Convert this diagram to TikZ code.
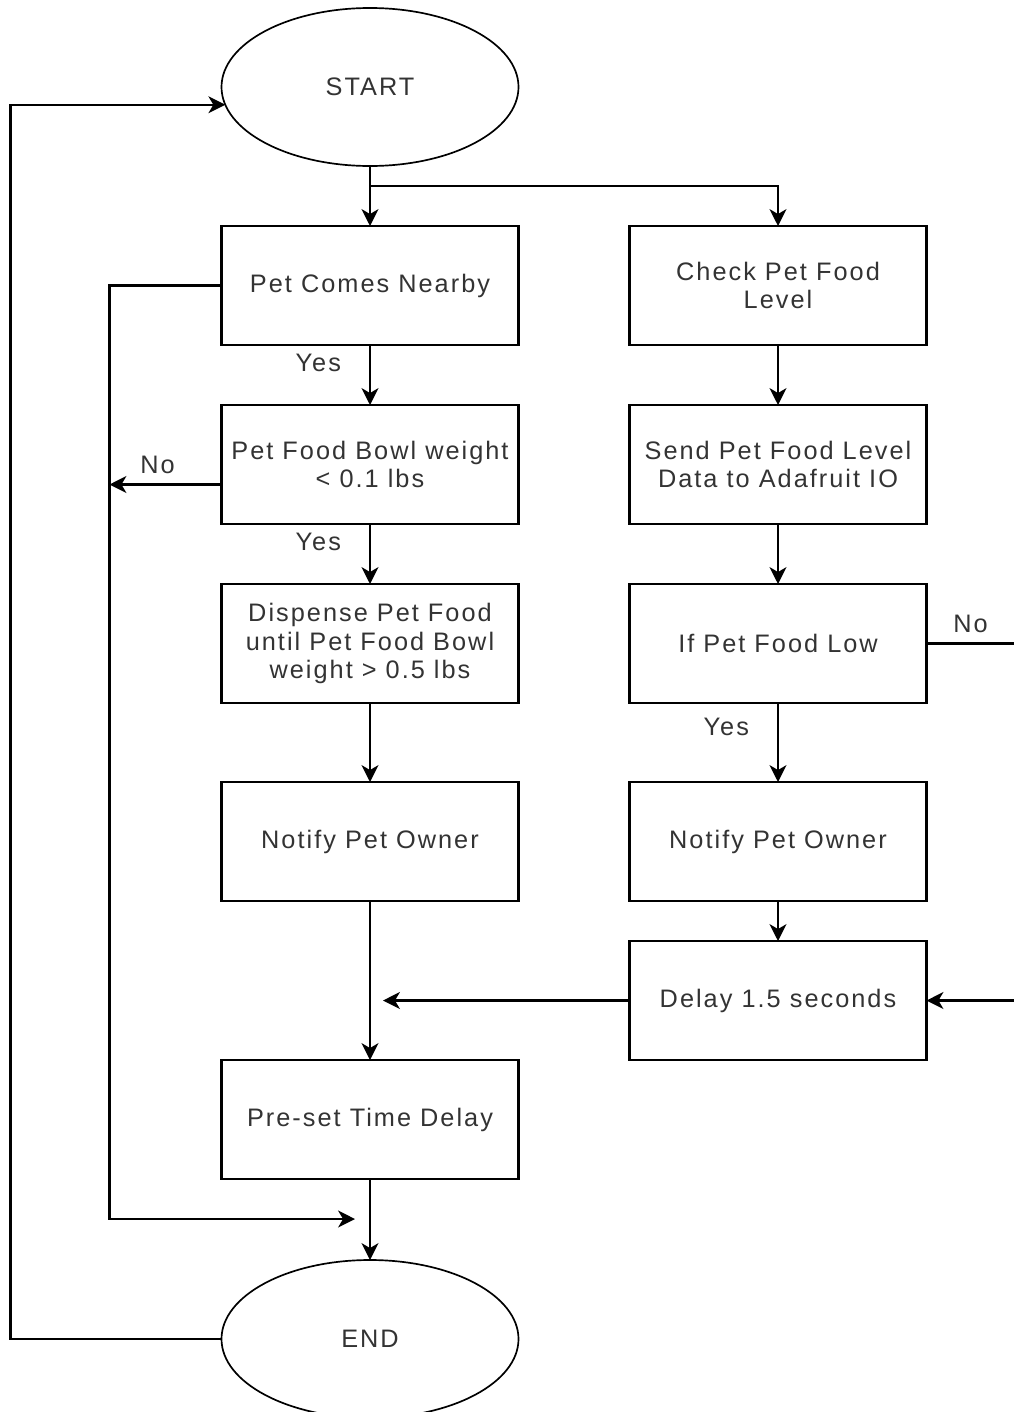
\documentclass[tikz,border=0pt]{standalone}
\usepackage{fontspec}
\setmainfont{Liberation Sans}[LetterSpace=8]
\usepackage{tikz}
\usetikzlibrary{arrows.meta,positioning,shapes.geometric,calc}

\begin{document}
\begin{tikzpicture}[
  font=\fontsize{18}{20}\selectfont,
  box/.style={draw, line width=1.5pt, align=center, text=black!80, outer sep=0pt,
              minimum width=7.425cm, minimum height=2.975cm, inner sep=2pt},
  term/.style={draw, line width=1.2pt, ellipse, text=black!80, outer sep=0pt,
               minimum width=7.425cm, minimum height=3.95cm},
  lbl/.style={text=black!80, inner sep=0pt},
  arr/.style={-{Stealth[length=12pt, width=12pt, inset=3.5pt]}, line width=1.5pt},
  ln/.style={line width=1.5pt}
]
\useasboundingbox (0,0) rectangle (25.35,-35.3);
% left column
\node[term] (start) at (9.25,-2.175) {START};
\node[box, below=1.5cm of start]   (pcn)    {Pet Comes Nearby};
\node[box, below=1.5cm of pcn]     (bowl)   {Pet Food Bowl weight\\ \textless{} 0.1 lbs};
\node[box, below=1.5cm of bowl]    (disp)   {Dispense Pet Food\\ until Pet Food Bowl\\ weight \textgreater{} 0.5 lbs};
\node[box, below=1.975cm of disp]  (notl)   {Notify Pet Owner};
\node[box, below=3.975cm of notl]  (preset) {Pre-set Time Delay};
\node[term, below=2.025cm of preset] (stop) {END};
% right column
\node[box, right=2.775cm of pcn]   (chk)    {Check Pet Food\\ Level};
\node[box, below=1.5cm of chk]     (send)   {Send Pet Food Level\\ Data to Adafruit IO};
\node[box, below=1.5cm of send]    (low)    {If Pet Food Low};
\node[box, below=1.975cm of low]   (notr)   {Notify Pet Owner};
\node[box, below=1cm of notr]      (delay)  {Delay 1.5 seconds};
% helper points
\coordinate[below=0.5cm of start]    (split);
\coordinate[left=2.8cm of pcn.west]  (nobus);
\coordinate (nomerge) at ($(preset.south)+(-0.375,-1)$);
\coordinate[right=2.2cm of low.east] (lowout);
\coordinate (dmerge) at ($(delay.west -| notl.south)+(0.325,0)$);
\coordinate[left=5.275cm of stop.west] (backL);

\draw[arr] (start) -- (pcn);
\draw[arr] (split) -| (chk.north);
\draw[arr] (pcn) -- node[lbl, pos=0.3, left=0.7cm] {Yes} (bowl);
\draw[arr] (bowl) -- node[lbl, pos=0.3, left=0.7cm] {Yes} (disp);
\draw[arr] (disp) -- (notl);
\draw[arr] (notl) -- (preset);
\draw[arr] (preset) -- (stop);
\draw[arr] (pcn.west) -- (nobus) |- (nomerge);
\draw[arr] ([yshift=-0.5cm]bowl.west) -- node[lbl, above=7pt, xshift=-0.2cm] {No}
  ([yshift=-0.5cm]bowl.west -| nobus);
\draw[arr] (chk) -- (send);
\draw[arr] (send) -- (low);
\draw[arr] (low) -- node[lbl, pos=0.3, left=0.7cm] {Yes} (notr);
\draw[arr] (notr) -- (delay);
\draw[ln] (low.east) -- node[lbl, above=7pt] {No} (lowout);
\draw[arr] (delay.east -| lowout) -- (delay.east);
\draw[arr] (delay.west) -- (dmerge);
\draw[arr] (stop.west) -- (backL) |- (start.187.5);
\end{tikzpicture}
\end{document}
